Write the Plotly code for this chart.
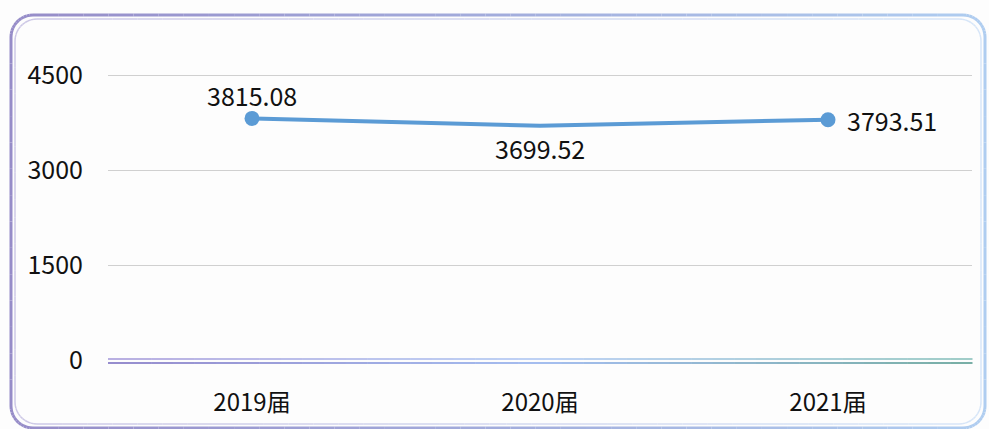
import plotly.graph_objects as go
import numpy as np

categories = ["2019届", "2020届", "2021届"]
values = [3815.08, 3699.52, 3793.51]
y_ticks = [0, 1500, 3000, 4500]

W, H = 989, 429
L, R, T, B = 108, 17, 68, 69
PW, PH = W - L - R, H - T - B
Y_TOP = 4500 + (75 - T) * 4500 / 285.0

def px(x):
    return (x - L) / PW

def py(y):
    return (H - B - y) / PH

def lerp(c1, c2, t):
    return "rgb(%d,%d,%d)" % tuple(int(round(a + (b - a) * t)) for a, b in zip(c1, c2))

fig = go.Figure()
fig.add_trace(go.Scatter(
    x=categories, y=values, mode="lines+markers",
    line=dict(color="#5b9bd5", width=4),
    marker=dict(size=15, color="#5b9bd5", opacity=[1, 0, 1]),
    hoverinfo="skip", showlegend=False, cliponaxis=False,
))

FONT = "Noto Sans CJK SC"
font_lbl = dict(family=FONT, size=25, color="#111111")
label_cfg = [("center", "bottom", 0, 3), ("center", "top", 0, -2), ("left", "middle", 17, 0)]
for c, v, (xa, ya, xs, ys) in zip(categories, values, label_cfg):
    fig.add_annotation(x=c, y=v, text=f"{v:.2f}", showarrow=False, xanchor=xa, yanchor=ya,
                       xshift=xs, yshift=ys, font=font_lbl)

shapes = []
pts = []
x0, y0, x1, y1, r = 11, 15, 985, 428, 22
def arc(cx, cy, a0, a1, n=12):
    return [(cx + r * np.cos(a), cy + r * np.sin(a)) for a in np.linspace(a0, a1, n)]
pts += arc(x0 + r, y0 + r, np.pi, 1.5 * np.pi)
pts += arc(x1 - r, y0 + r, 1.5 * np.pi, 2 * np.pi)
pts += arc(x1 - r, y1 - r, 0, 0.5 * np.pi)
pts += arc(x0 + r, y1 - r, 0.5 * np.pi, np.pi)
pts.append(pts[0])
dense = []
for (ax, ay), (bx, by) in zip(pts[:-1], pts[1:]):
    n = max(1, int(np.hypot(bx - ax, by - ay) / 25))
    for k in range(n):
        dense.append((ax + (bx - ax) * k / n, ay + (by - ay) * k / n))
dense.append(pts[0])
cL, cR = (150, 140, 200), (175, 205, 240)
for (ax, ay), (bx, by) in zip(dense[:-1], dense[1:]):
    t = ((ax + bx) / 2 - x0) / (x1 - x0)
    shapes.append(dict(type="line", xref="paper", yref="paper", x0=px(ax), y0=py(ay), x1=px(bx), y1=py(by),
                       line=dict(color=lerp(cL, cR, t), width=3), layer="above"))
cx_ = 0.5 * (x0 + x1)
cy_ = 0.5 * (y0 + y1)
def inset(x, y):
    return (x + (4 if x < cx_ else -4), y + (4 if y < cy_ else -4))
for (ax, ay), (bx, by) in zip(dense[:-1], dense[1:]):
    a2, b2 = inset(ax, ay), inset(bx, by)
    t = ((ax + bx) / 2 - x0) / (x1 - x0)
    shapes.append(dict(type="line", xref="paper", yref="paper", x0=px(a2[0]), y0=py(a2[1]), x1=px(b2[0]), y1=py(b2[1]),
                       line=dict(color=lerp((205, 200, 230), (215, 230, 248), t), width=1.5), layer="above"))

N = 40
for k in range(N):
    t0, t1 = k / N, (k + 1) / N
    tm = (t0 + t1) / 2
    if tm < 0.5:
        c_up = lerp((185, 175, 225), (190, 210, 245), tm / 0.5)
        c_dn = lerp((150, 140, 205), (165, 190, 240), tm / 0.5)
    else:
        c_up = lerp((190, 210, 245), (160, 205, 200), (tm - 0.5) / 0.5)
        c_dn = lerp((165, 190, 240), (120, 175, 165), (tm - 0.5) / 0.5)
    xa, xb = L + t0 * PW, L + t1 * PW + 0.5
    shapes.append(dict(type="line", xref="paper", yref="paper", x0=px(xa), x1=px(xb), y0=py(359), y1=py(359),
                       line=dict(color=c_up, width=2), layer="above"))
    shapes.append(dict(type="line", xref="paper", yref="paper", x0=px(xa), x1=px(xb), y0=py(363), y1=py(363),
                       line=dict(color=c_dn, width=2), layer="above"))

fig.update_layout(
    width=W, height=H,
    margin=dict(l=L, r=R, t=T, b=B),
    paper_bgcolor="#fdfdfd", plot_bgcolor="#fdfdfd",
    shapes=shapes,
    xaxis=dict(type="category", range=[-0.5, 2.5], showgrid=False, zeroline=False, showline=False,
               ticks="", tickfont=dict(family=FONT, size=24, color="#111111"), ticklabelstandoff=26),
    yaxis=dict(range=[0, Y_TOP], tickvals=y_ticks, showgrid=True, gridcolor="#d0d0d0", gridwidth=1,
               zeroline=False, showline=False, ticks="", ticklabelstandoff=24,
               tickfont=dict(family=FONT, size=25, color="#111111")),
)

fig.write_html("out.html", config={"displayModeBar": False},
               post_script="document.body.style.margin='0';document.body.style.overflow='hidden';")
